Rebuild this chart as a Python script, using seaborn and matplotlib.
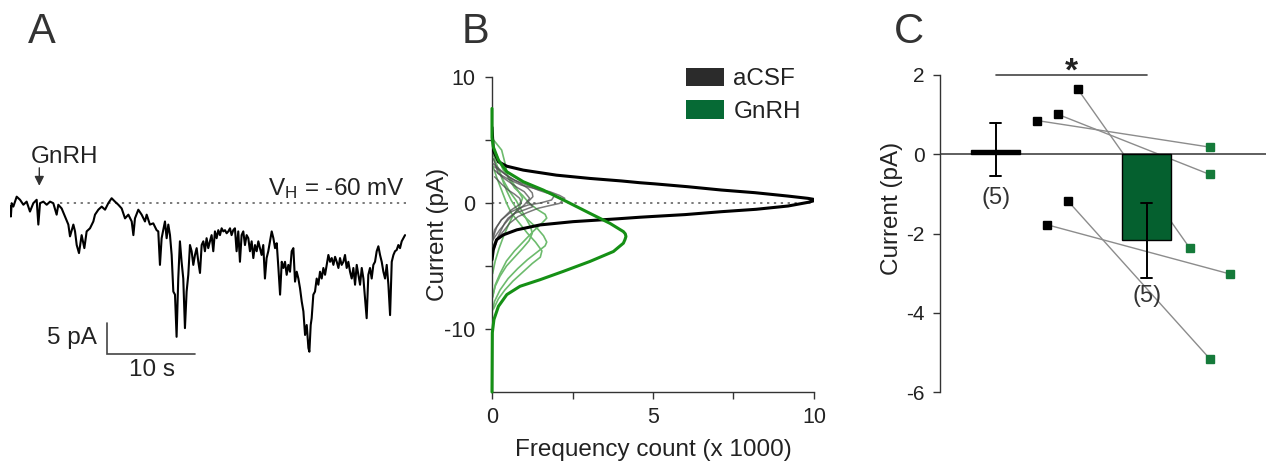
import matplotlib
matplotlib.use('Agg')
import pandas as pd
import matplotlib.pyplot as plt
import seaborn as sns
from matplotlib.patches import Patch

sns.set_style('white')
plt.rcParams['font.family'] = ['Liberation Sans', 'DejaVu Sans']
plt.rcParams['mathtext.fontset'] = 'custom'
plt.rcParams['mathtext.rm'] = 'Liberation Sans'
plt.rcParams['mathtext.it'] = 'Liberation Sans:italic'

TXT = '#222222'
AXC = '#333333'
GREEN_BAR = '#05602f'
GREEN_FIT = '#159015'
GREEN_PT = '#157a3a'
GREEN_THIN = '#6dbb6d'

# ---------- A: whole-cell current trace (s, pA) ----------
trace_t = [
    0.0, 0.1, 0.19, 0.38, 0.57, 0.76, 1.14, 1.52, 1.89, 2.27,
    2.65, 3.03, 3.22, 3.41, 3.79, 4.17, 4.55, 4.92, 5.30, 5.49,
    5.87, 6.25, 6.63, 6.82, 7.20, 7.39, 7.58, 7.84, 8.14, 8.45,
    8.71, 9.09, 9.47, 9.66, 10.04, 10.42, 10.80, 11.17, 11.55, 11.93,
    12.31, 12.69, 13.07, 13.45, 13.83, 14.02, 14.2,
    14.58, 14.96, 15.34, 15.53, 15.90, 16.28, 16.66, 16.85, 17.04, 17.23,
    17.61, 17.80, 17.99, 18.18, 18.37, 18.56, 18.75, 18.93, 19.12, 19.31,
    19.50, 19.69, 19.88, 20.07, 20.26, 20.45, 20.64, 20.83, 21.02, 21.21,
    21.40, 21.59, 21.78, 21.97, 22.15, 22.34, 22.53, 22.72, 22.91, 23.10,
    23.29, 23.48, 23.67, 23.86, 24.05, 24.24, 24.43, 24.62, 24.81, 25.00,
    25.18, 25.37, 25.56, 25.75, 25.94, 26.13, 26.32, 26.51, 26.70, 26.89,
    27.08, 27.27, 27.46, 27.65, 27.84, 28.03, 28.22, 28.40, 28.59, 28.78,
    28.97, 29.16, 29.35,
    29.74, 29.93, 30.12, 30.31, 30.50, 30.69, 30.88, 31.07, 31.25, 31.44,
    31.63, 31.82, 32.01, 32.20, 32.39, 32.58, 32.77, 32.96, 33.15, 33.34,
    33.53, 33.72, 33.91, 34.02, 34.17, 34.28, 34.47, 34.66, 34.85, 35.04,
    35.23, 35.42, 35.61, 35.80, 35.99, 36.18, 36.37, 36.56, 36.75, 36.94,
    37.13, 37.32, 37.50, 37.69, 37.88, 38.07, 38.26, 38.45, 38.64, 38.83,
    39.02, 39.21, 39.40, 39.59, 39.78, 39.97, 40.16, 40.35, 40.53, 40.72,
    40.91, 41.10, 41.29, 41.48, 41.67, 41.86, 42.05, 42.24, 42.43, 42.62,
    42.81, 43.00, 43.19, 43.38, 43.57, 43.75, 43.94, 44.13, 44.32, 44.51,
    44.70, 44.89,
]
trace_i = [
    -0.5, -2.2, -0.05, -0.6, 0.2, 1.0, 0.5, -0.3, 0.2, -1.4,
    -0.05, 0.5, -3.5, -0.05, 0.2, -0.3, 0.2, -0.05, -1.9, -0.3,
    -0.9, -2.2, -3.5, -5.4, -3.5, -4.6, -6.8, -8.1, -5.2, -7.3,
    -4.6, -4.1, -3.0, -1.9, -1.1, -0.6, -1.1, -0.05, 0.75, 0.2,
    -0.3, -0.9, -2.5, -1.9, -3.0, -5.2, -2.5,
    -1.1, -1.9, -3.0, -1.9, -3.5, -3.3, -4.4, -4.6, -10.0, -5.7,
    -3.0, -5.7, -3.5, -5.2, -8.4, -14.3, -14.8, -21.6, -12.2, -6.2,
    -9.5, -12.2, -20.2, -14.3, -11.6, -6.8, -7.8, -10.0, -8.4, -7.3,
    -9.5, -11.3, -6.8, -6.2, -7.8, -5.7, -7.3, -6.2, -5.2, -7.8,
    -4.6, -5.7, -4.4, -5.2, -4.1, -4.6, -4.4, -4.9, -4.6, -4.1,
    -5.2, -4.4, -4.1, -7.8, -4.6, -9.5, -5.2, -4.6, -6.8, -5.2,
    -5.7, -7.8, -6.2, -8.9, -6.8, -7.8, -6.2, -7.3, -8.4, -6.8,
    -12.2, -8.9, -7.8,
    -4.6, -5.7, -7.3, -6.5, -10.5, -14.8, -9.5, -10.5, -9.5, -11.6,
    -10.0, -11.1, -7.8, -7.3, -12.7, -11.1, -12.2, -13.8, -15.9, -17.5,
    -21.3, -19.7, -23.4, -24.0, -19.7, -18.6, -14.8, -14.3, -12.2, -13.2,
    -11.1, -12.2, -10.5, -11.6, -10.0, -8.4, -9.5, -8.9, -10.0, -8.7,
    -9.5, -10.5, -8.9, -10.0, -9.5, -8.4, -10.5, -9.5, -11.1, -12.2,
    -10.5, -13.2, -10.0, -11.6, -13.2, -10.5, -12.2, -15.4, -18.6, -11.6,
    -10.5, -12.2, -10.0, -9.5, -7.8, -7.0, -8.4, -9.5, -11.1, -12.2,
    -10.0, -13.2, -18.1, -9.5, -8.4, -7.8, -7.6, -6.8, -7.3, -6.2,
    -5.7, -5.2,
]

# ---------- B: all-points histograms (count x1000, pA) ----------
acsf_fit_count = [0.0, 0.04, 0.2, 0.46, 0.97, 2.0, 3.04, 4.02, 4.59, 5.05, 6.09, 7.12,
                  8.16, 9.19, 9.81, 9.97, 10.02, 9.97, 9.81, 9.19, 8.2, 7.12, 6.0, 5.05,
                  4.59, 3.87, 2.52, 1.49, 0.77, 0.35, 0.14, 0.04, 0.0]
acsf_fit_current = [6.0, 4.19, 3.27, 2.92, 2.61, 2.21, 1.95, 1.75, 1.61, 1.52, 1.29, 1.03,
                    0.82, 0.55, 0.37, 0.30, 0.24, 0.16, 0.05, -0.24, -0.5, -0.69, -0.92, -1.06,
                    -1.13, -1.26, -1.48, -1.74, -2.13, -2.53, -2.92, -3.72, -4.5]
gnrh_fit_count = [0.0, 0.0, 0.04, 0.2, 0.46, 0.97, 1.59, 2.32, 3.04, 3.66, 4.08, 4.14,
                  4.16, 4.13, 4.08, 3.77, 3.04, 2.21, 1.49, 0.87, 0.46, 0.2, 0.06, 0.01, 0.0]
gnrh_fit_current = [7.5, 5.2, 4.45, 3.40, 2.48, 1.69, 1.03, 0.11, -0.82, -1.61, -2.27, -2.45,
                    -2.66, -2.9, -3.19, -3.85, -4.64, -5.43, -6.09, -6.61, -7.27, -8.2, -9.25,
                    -10.3, -15.0]

acsf_cells = [
    ([0.05, 0.19, 0.5, 0.91, 1.4, 1.79, 2.1, 2.26, 2.1, 1.8, 1.43, 1.1, 0.81, 0.55, 0.39, 0.2, 0.13, 0.03],
     [3.5, 2.35, 1.9, 1.42, 1.1, 0.9, 0.6, 0.37, -0.03, -0.2, -0.42, -0.75, -1.08, -1.6, -2.13, -2.7, -3.19, -3.8]),
    ([0.03, 0.5, 0.85, 1.12, 1.25, 1.27, 1.12, 1.27, 1.0, 0.7, 0.5, 0.39, 0.19, 0.03],
     [3.14, 2.08, 1.6, 1.16, 0.8, 0.5, 0.1, -0.29, -0.55, -0.82, -1.2, -1.6, -2.66, -3.45]),
    ([0.08, 0.4, 0.7, 1.1, 1.43, 1.7, 1.95, 1.85, 1.5, 1.12, 0.85, 0.6, 0.29, 0.15, 0.08, 0.02],
     [2.87, 2.3, 1.82, 1.4, 1.03, 0.8, 0.63, 0.24, 0.0, -0.16, -0.4, -0.69, -1.34, -1.9, -2.4, -3.0]),
    ([0.08, 0.35, 0.6, 0.8, 1.0, 1.17, 1.0, 0.75, 0.5, 0.24, 0.03],
     [2.6, 2.0, 1.55, 1.2, 0.9, 0.37, -0.16, -0.69, -1.34, -2.13, -2.92]),
    ([0.08, 0.3, 0.5, 0.7, 0.86, 0.91, 0.6, 0.29, 0.08, 0.0],
     [2.08, 1.5, 1.03, 0.7, 0.37, -0.03, -0.55, -1.34, -2.13, -3.0]),
]
gnrh_cells = [
    ([0.05, 0.3, 0.4, 0.5, 0.7, 0.95, 1.15, 1.4, 1.65, 1.7, 1.55, 1.3, 1.0, 0.7, 0.45, 0.25, 0.1, 0.02],
     [5.0, 4.2, 3.2, 2.0, 1.2, 0.6, 0.0, -0.5, -0.9, -1.2, -1.6, -2.2, -3.0, -3.8, -4.6, -5.6, -6.5, -7.5]),
    ([0.02, 0.15, 0.3, 0.45, 0.6, 0.8, 1.1, 1.4, 1.6, 1.7, 1.65, 1.4, 1.1, 0.8, 0.5, 0.25, 0.08, 0.02],
     [4.0, 3.0, 2.0, 1.0, 0.2, -0.6, -1.3, -2.0, -2.6, -3.1, -3.4, -3.9, -4.5, -5.2, -6.0, -6.9, -7.8, -8.5]),
    ([0.02, 0.15, 0.3, 0.45, 0.6, 0.85, 1.1, 1.35, 1.55, 1.5, 1.25, 0.95, 0.65, 0.4, 0.2, 0.05],
     [3.0, 2.0, 1.0, 0.0, -0.8, -1.6, -2.4, -3.1, -3.8, -4.3, -4.8, -5.5, -6.2, -6.9, -7.6, -8.4]),
    ([0.05, 0.2, 0.35, 0.55, 0.75, 0.9, 1.05, 1.2, 1.25, 1.15, 0.95, 0.7, 0.45, 0.25, 0.1, 0.02],
     [3.5, 2.7, 1.8, 0.9, 0.2, -0.5, -1.2, -1.9, -2.4, -3.0, -3.6, -4.3, -5.0, -5.8, -6.6, -7.4]),
    ([0.02, 0.2, 0.35, 0.6, 0.8, 0.95, 0.85, 0.65, 0.5, 0.35, 0.22, 0.1, 0.02],
     [4.5, 3.5, 2.6, 1.8, 1.0, 0.4, -0.3, -1.0, -1.8, -2.7, -3.6, -4.6, -5.6]),
]

# ---------- C: mean current per cell (pA) ----------
conditions = ['aCSF', 'GnRH']
acsf_current = [1.65, 1.01, 0.85, -1.17, -1.78]
gnrh_current = [-2.37, -0.51, 0.18, -5.16, -3.02]
n_cells = [5, 5]
# horizontal placement of the paired points (layout only)
acsf_xpos = [0.542, 0.410, 0.275, 0.476, 0.341]
gnrh_xpos = [1.284, 1.416, 1.416, 1.416, 1.548]

# ---------- figure ----------
W, H = 1266, 463
fig = plt.figure(figsize=(W / 100, H / 100), dpi=100)


def px_axes(x0, y0, x1, y1):
    return fig.add_axes([x0 / W, 1 - y1 / H, (x1 - x0) / W, (y1 - y0) / H])


axA = px_axes(10, 77, 406, 392)
axB = px_axes(492, 77, 814, 392)
axC = px_axes(940, 75, 1266, 392)

# panel A
axA.plot([5.7, 45], [0, 0], ls=(0, (1.5, 3)), color='#555555', lw=1.1, zorder=1)
sns.lineplot(x=trace_t, y=trace_i, ax=axA, color='black', lw=1.5, sort=False,
             estimator=None, zorder=2)
axA.set_xlim(0, 45)
axA.set_ylim(-30.5, 20.3)
axA.axis('off')
axA.annotate('', xy=(3.33, 2.3), xytext=(3.33, 6.1),
             arrowprops=dict(arrowstyle='-|>', color='#333333', lw=1.0, mutation_scale=14))
axA.text(2.35, 6.5, 'GnRH', fontsize=17.5, color=TXT, ha='left', va='baseline')
axA.text(44.9, 1.3, r'V$_\mathrm{H}$ = -60 mV', fontsize=17.5, color=TXT, ha='right', va='baseline')
axA.plot([11.06, 11.06, 21.06], [-19.35, -24.35, -24.35], color='#444444', lw=1.2,
         solid_joinstyle='miter')
axA.text(9.9, -21.8, '5 pA', fontsize=17.5, color=TXT, ha='right', va='center')
axA.text(16.1, -26.9, '10 s', fontsize=17.5, color=TXT, ha='center', va='center')

# panel B
axB.plot([0, 10.1], [0, 0], ls=(0, (1.5, 3)), color='#555555', lw=1.1, zorder=1)
gray_df = pd.DataFrame([(k, c, v) for k, (cs, vs) in enumerate(acsf_cells) for c, v in zip(cs, vs)],
                       columns=['cell', 'count', 'current'])
green_df = pd.DataFrame([(k, c, v) for k, (cs, vs) in enumerate(gnrh_cells) for c, v in zip(cs, vs)],
                        columns=['cell', 'count', 'current'])
sns.lineplot(data=green_df, x='count', y='current', units='cell', estimator=None, sort=False,
             color=GREEN_THIN, lw=1.2, ax=axB, zorder=2)
sns.lineplot(data=gray_df, x='count', y='current', units='cell', estimator=None, sort=False,
             color='#4d4d4d', alpha=0.75, lw=1.1, ax=axB, zorder=3)
axB.plot(acsf_fit_count, acsf_fit_current, color='black', lw=2.2, zorder=4,
         solid_capstyle='round', solid_joinstyle='round')
axB.plot(gnrh_fit_count, gnrh_fit_current, color=GREEN_FIT, lw=2.2, zorder=5,
         solid_capstyle='round', solid_joinstyle='round', clip_on=False)
axB.set_xlim(0, 10)
axB.set_ylim(-15, 10)
sns.despine(ax=axB)
axB.set_xticks([0, 2.5, 5, 7.5, 10], ['0', '', '5', '', '10'])
axB.set_yticks([10, 5, 0, -5, -10], ['10', '', '0', '', '-10'])
axB.tick_params(axis='both', direction='out', length=5, width=1, color=AXC,
                labelsize=15.5, labelcolor=TXT, left=True, bottom=True)
axB.tick_params(axis='x', pad=6)
axB.tick_params(axis='y', pad=7)
for s in axB.spines.values():
    s.set_color(AXC)
    s.set_linewidth(1.0)
axB.set_xlabel('Frequency count (x 1000)', fontsize=17.5, color=TXT)
axB.set_ylabel('Current (pA)', fontsize=17.5, color=TXT)
axB.xaxis.set_label_coords(0.5, -0.15)
axB.yaxis.set_label_coords(-0.135, 0.5)
handles = [Patch(facecolor='#2b2b2b', edgecolor='none', label='aCSF'),
           Patch(facecolor='#066a35', edgecolor='none', label='GnRH')]
axB.legend(handles=handles, loc='upper left', bbox_to_anchor=(0.602, 1.03), frameon=False,
           fontsize=17.5, handlelength=1.56, handleheight=0.8, handletextpad=0.4,
           labelspacing=0.4, borderpad=0, borderaxespad=0, labelcolor=TXT)

# panel C
for xa, xg, ya, yg in zip(acsf_xpos, gnrh_xpos, acsf_current, gnrh_current):
    axC.plot([xa, xg], [ya, yg], color='#8c8c8c', lw=1.0, zorder=0.5)
axC.plot(acsf_xpos, acsf_current, 's', color='black', ms=5.5, zorder=4, ls='none')
axC.plot(gnrh_xpos, gnrh_current, 's', color=GREEN_PT, ms=5.5, zorder=4, ls='none')

bar_df = pd.DataFrame({'condition': ['aCSF'] * len(acsf_current) + ['GnRH'] * len(gnrh_current),
                       'current': acsf_current + gnrh_current})
sns.barplot(data=bar_df, x='condition', y='current', hue='condition', order=conditions,
            palette={'aCSF': 'black', 'GnRH': GREEN_BAR}, saturation=1, errorbar='se',
            capsize=0.073, width=0.326, edgecolor='black', linewidth=1.0, legend=False,
            err_kws={'color': 'black', 'linewidth': 1.4}, ax=axC)
axC.axhline(0, color=AXC, lw=1.1, zorder=0.8)
axC.set_xlim(-0.368, 1.788)
axC.set_ylim(-6, 2)
sns.despine(ax=axC, bottom=True)
axC.set_xticks([])
axC.set_xlabel('')
axC.set_yticks([2, 0, -2, -4, -6], ['2', '0', '-2', '-4', '-6'])
axC.tick_params(axis='y', direction='out', length=5, width=1, color=AXC, labelsize=15,
                labelcolor=TXT, pad=6, left=True)
axC.spines['left'].set_color(AXC)
axC.spines['left'].set_linewidth(1.0)
axC.set_ylabel('Current (pA)', fontsize=17.5, color=TXT)
axC.yaxis.set_label_coords(-0.113, 0.58)

n_label_y = [-1.1, -3.57]
for k, (n, y) in enumerate(zip(n_cells, n_label_y)):
    axC.text(k, y, f'({n})', fontsize=17, color='#333333', ha='center', va='center')
axC.plot([0, 1], [2.0, 2.0], color='#444444', lw=1.2, clip_on=False)
axC.text(0.5, 1.87, '*', fontsize=24, fontweight='bold', color=TXT, ha='center', va='baseline',
         clip_on=False)

# panel letters
for x, letter in [(42, 'A'), (475.8, 'B'), (909, 'C')]:
    fig.text(x / W, 1 - 43.3 / H, letter, fontsize=30, color=AXC, ha='center', va='baseline')

fig.savefig('out.png', dpi=100)
